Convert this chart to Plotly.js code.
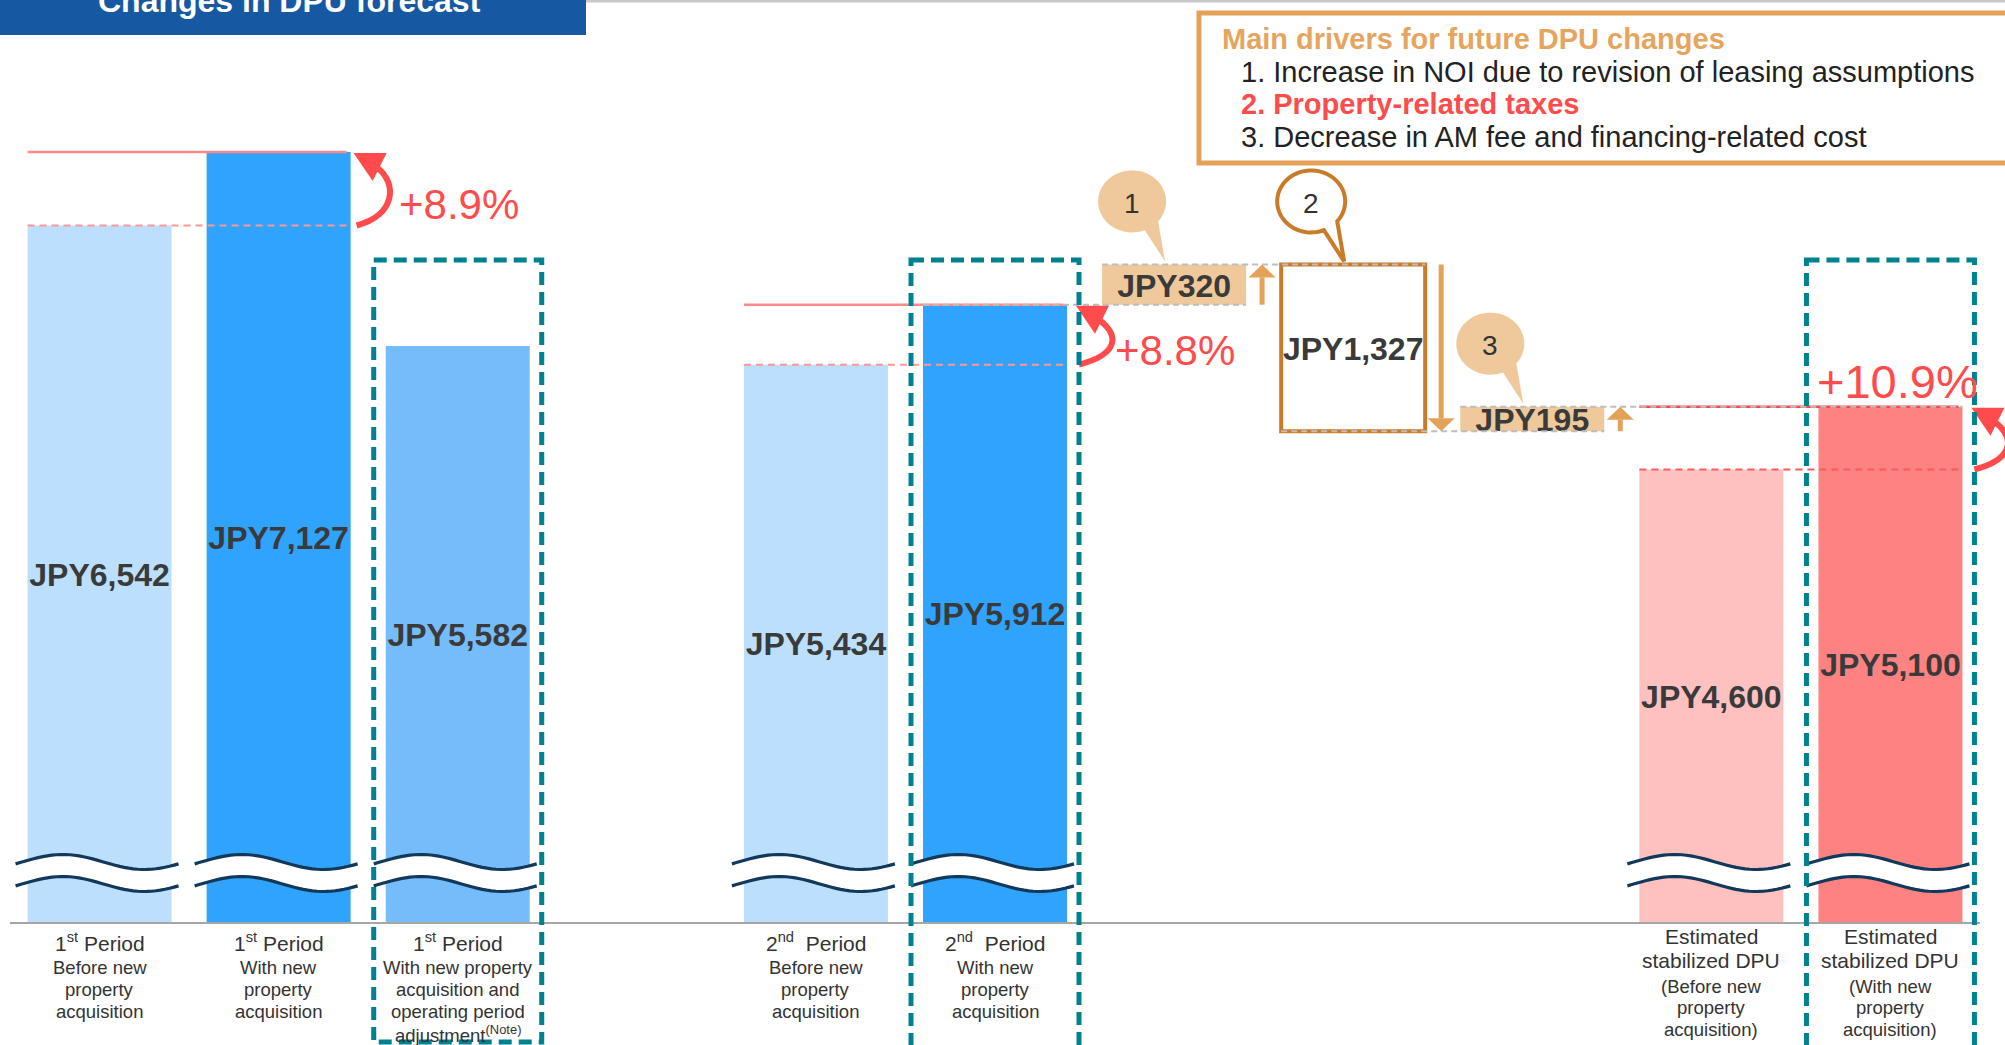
<!DOCTYPE html>
<html>
<head>
<meta charset="utf-8">
<title>Changes in DPU forecast</title>
<script src="https://cdn.plot.ly/plotly-3.0.1.min.js"></script>
<style>
  html, body { margin: 0; padding: 0; background: #ffffff; }
  #chart { width: 2005px; height: 1045px; }
</style>
</head>
<body>
<div id="chart"></div>
<script>
// ---------------- data ----------------
const chartTitle = 'Changes in DPU forecast';

const categories = [
  '1st Period before acquisition',
  '1st Period with acquisition',
  '1st Period adjusted',
  '2nd Period before acquisition',
  '2nd Period with acquisition',
  'Stabilized before acquisition',
  'Stabilized with acquisition'
];
const dpuValues = [6542, 7127, 5582, 5434, 5912, 4600, 5100];

const categoryLabels = [
  ['1<sup>st</sup> Period', 'Before new', 'property', 'acquisition'],
  ['1<sup>st</sup> Period', 'With new', 'property', 'acquisition'],
  ['1<sup>st</sup> Period', 'With new property', 'acquisition and', 'operating period', 'adjustment<sup>(Note)</sup>'],
  ['2<sup>nd</sup>\u00a0 Period', 'Before new', 'property', 'acquisition'],
  ['2<sup>nd</sup>\u00a0 Period', 'With new', 'property', 'acquisition'],
  ['Estimated', 'stabilized DPU', '(Before new', 'property', 'acquisition)'],
  ['Estimated', 'stabilized DPU', '(With new', 'property', 'acquisition)']
];

// bridge from the 2nd period DPU to the stabilized DPU
const driverCategories = ['Driver 1', 'Driver 2', 'Driver 3'];
const driverNumbers = ['1', '2', '3'];
const driverChanges = [320, -1327, 195];

// before / with pairs (indexes into categories)
const comparisons = [[0, 1], [3, 4], [5, 6]];

const legendTitle = 'Main drivers for future DPU changes';
const legendItems = [
  '1. Increase in NOI due to revision of leasing assumptions',
  '2. Property-related taxes',
  '3. Decrease in AM fee and financing-related cost'
];

// ---------------- layout helpers ----------------
const FONT = 'Liberation Sans, Arial, Helvetica, sans-serif';
const W = 2005, H = 1045;
const M = { l: 10, r: 25, t: 0, b: 123 };
const plotW = W - M.l - M.r, plotH = H - M.t - M.b;
const X_RANGE = [-0.5, 10.5];
const Y_RANGE = [998, 8337];          // value axis is broken below Y_RANGE[0]
const BAR_W = 0.804;
const TEXT_NUDGE = 4 * (Y_RANGE[1] - Y_RANGE[0]) / plotH;   // 4px downward, in value units

const columnOrder = [
  categories[0], categories[1], categories[2], null,
  categories[3], categories[4],
  driverCategories[0], driverCategories[1], driverCategories[2],
  categories[5], categories[6]
];
const highlightColumns = [categories[2], categories[4], categories[6]];
const headingLines = [1, 1, 1, 1, 1, 2, 2];
const barColors = ['#bbdffc', '#2fa3fd', '#75bdfa', '#bbdffc', '#2fa3fd', '#ffc0c0', '#ff8282'];

const slotOf = name => columnOrder.indexOf(name);
const xPx = x => M.l + (x - X_RANGE[0]) / (X_RANGE[1] - X_RANGE[0]) * plotW;
const yPx = v => M.t + (Y_RANGE[1] - v) / (Y_RANGE[1] - Y_RANGE[0]) * plotH;
const pX = px => (px - M.l) / plotW;
const pY = py => 1 - (py - M.t) / plotH;
const colCenter = name => xPx(slotOf(name));
const colLeft = name => xPx(slotOf(name) - BAR_W / 2);
const colRight = name => xPx(slotOf(name) + BAR_W / 2);
const pt = (x, y) => pX(x).toFixed(5) + ',' + pY(y).toFixed(5);
const polyPath = (pts, close) =>
  pts.map((p, i) => (i ? 'L' : 'M') + pt(p[0], p[1])).join(' ') + (close ? ' Z' : '');
const fmtJPY = v => 'JPY' + Math.abs(v).toLocaleString('en-US');

const shapes = [];
const annotations = [];
const line = (x0, y0, x1, y1, color, width, dash) => shapes.push({
  type: 'line', xref: 'paper', yref: 'paper',
  x0: pX(x0), y0: pY(y0), x1: pX(x1), y1: pY(y1),
  line: { color: color, width: width, dash: dash || 'solid' }
});
const path = (d, fill, stroke, width) => shapes.push({
  type: 'path', xref: 'paper', yref: 'paper', path: d,
  fillcolor: fill || 'rgba(0,0,0,0)',
  line: { color: stroke || 'rgba(0,0,0,0)', width: width || 0 }
});
const label = (x, y, text, size, color, anchor) => annotations.push({
  xref: 'paper', yref: 'paper', x: pX(x), y: pY(y), text: text,
  showarrow: false, xanchor: anchor || 'center', yanchor: 'middle',
  font: { family: FONT, size: size, color: color }
});

// ---------------- waterfall levels ----------------
const bridgeLevels = [dpuValues[4]];
driverChanges.forEach(c => bridgeLevels.push(bridgeLevels[bridgeLevels.length - 1] + c));
const driverBases = driverChanges.map((c, i) => bridgeLevels[i]);

// ---------------- header ----------------
shapes.push({ type: 'rect', xref: 'paper', yref: 'paper', x0: pX(0), x1: pX(586), y0: pY(0), y1: pY(35),
  fillcolor: '#1659a2', line: { width: 0 } });
line(586, 1, W, 1, '#c8c8c8', 3);
label(289, 1, '<b>' + chartTitle + '</b>', 32, '#ffffff');

// ---------------- comparison reference lines ----------------
comparisons.forEach(([b, w], k) => {
  const x0 = colLeft(categories[b]), x1 = colRight(categories[w]) - 4;
  const strong = k === 2;
  line(x0, yPx(dpuValues[b]), x1, yPx(dpuValues[b]), strong ? '#ff5a5a' : '#ff9696', 2, '7px,5px');
  line(x0, yPx(dpuValues[w]), x1, yPx(dpuValues[w]), strong ? '#ff4646' : '#ff8a8a', 2.5);
});

// ---------------- waterfall connectors and arrows ----------------
const bridgeSeq = [categories[4]].concat(driverCategories, [categories[6]]);
bridgeLevels.forEach((lv, k) => {
  line(colLeft(bridgeSeq[k]), yPx(lv), colRight(bridgeSeq[k + 1]), yPx(lv), '#bdbdbd', 2, '6px,4px');
});
driverCategories.forEach((name, i) => {
  const x = colRight(name) + 16;
  const yFrom = yPx(bridgeLevels[i]), yTo = yPx(bridgeLevels[i + 1]);
  const dir = Math.sign(yTo - yFrom);
  const headLen = 13, headHalf = 13.5;
  const yBase = yTo - dir * headLen;
  line(x, yFrom, x, yBase, '#e4a258', 5);
  path(polyPath([[x - headHalf, yBase], [x + headHalf, yBase], [x, yTo]], true), '#e4a258');
});

// ---------------- axis-break waves ----------------
categories.forEach(name => {
  const xl = colLeft(name) - 12, xr = colRight(name) + 7;
  const base = yPx(Y_RANGE[0]);
  const curve = c => {
    const pts = [];
    for (let i = 0; i <= 36; i++) {
      const t = i / 36;
      pts.push([xl + t * (xr - xl), c - 7.5 * Math.sin(2 * Math.PI * t - 0.25)]);
    }
    return pts;
  };
  const up = curve(base - 60), lo = curve(base - 38);
  path(polyPath(up.concat(lo.slice().reverse()), true), '#ffffff');
  path(polyPath(up), null, '#12395c', 3.2);
  path(polyPath(lo), null, '#12395c', 3.2);
});

// ---------------- change arrows and percentages ----------------
comparisons.forEach(([b, w], k) => {
  const R = colRight(categories[w]) + (k === 0 ? 0 : 6);
  const yH = yPx(dpuValues[w]), yL = yPx(dpuValues[b]);
  const d = 'M' + pt(R + 6, yL) + ' C' + pt(R + 44, yL - 10) + ' ' + pt(R + 48, yH + 32) + ' ' + pt(R + 26, yH + 15);
  path(d, null, '#ff4b4b', 6);
  path(polyPath([[R + 3, yH + 1], [R + 36, yH + 1], [R + 22, yH + 29]], true), '#ff4b4b');

  const pct = '+' + ((dpuValues[w] / dpuValues[b] - 1) * 100).toFixed(1) + '%';
  const Rb = colRight(categories[w]);
  if (k < 2) {
    label(Rb + 46, (yH + yL) / 2 + 16, pct, 42, '#ff4b4b', 'left');
  } else {
    label(colCenter(categories[w]) + 7, yH - 25, pct, 47, '#ff4b4b');
  }
});

// ---------------- highlight frames ----------------
highlightColumns.forEach((name, i) => {
  const c = colCenter(name);
  shapes.push({ type: 'rect', xref: 'paper', yref: 'paper',
    x0: pX(c - 84), x1: pX(c + 84), y0: pY(260), y1: pY(i === 0 ? 1042 : 1065),
    fillcolor: 'rgba(0,0,0,0)', line: { color: '#00818f', width: 5, dash: '13px,7px' } });
});

// ---------------- callout bubbles ----------------
driverCategories.forEach((name, i) => {
  const top = yPx(Math.max(bridgeLevels[i], bridgeLevels[i + 1]));
  const cx = colCenter(name) - 42, cy = top - 63, rx = 34, ry = 31;
  const E = deg => [cx + rx * Math.cos(deg * Math.PI / 180), cy + ry * Math.sin(deg * Math.PI / 180)];
  const pts = [E(40), [cx + 33, top - 3], E(68)];
  for (let d = 74; d <= 394; d += 6) pts.push(E(d));
  const outlined = i === 1;
  path(polyPath(pts, true), outlined ? '#ffffff' : '#efc99b', outlined ? '#c97b29' : null, outlined ? 4 : 0);
  label(cx, cy + 2, driverNumbers[i], 28, '#333333');
});

// ---------------- legend box ----------------
shapes.push({ type: 'rect', xref: 'paper', yref: 'paper', x0: pX(1199), x1: pX(2040), y0: pY(13), y1: pY(163),
  fillcolor: '#ffffff', line: { color: '#e4a258', width: 5 } });
label(1220, 38.5, '<b>' + legendTitle + '</b>', 29, '#e6a55e', 'left');
const legendY = [72, 103.5, 136.5];
legendItems.forEach((t, i) => {
  const emph = i === 1;
  label(1239, legendY[i], emph ? '<b>' + t + '</b>' : t, 29, emph ? '#ff4b4b' : '#222222', 'left');
});

// ---------------- category labels ----------------
const lineY = {
  1: [942, 967, 989.5, 1011.5, 1034],
  2: [936, 960.5, 986, 1008, 1029.5]
};
categories.forEach((name, i) => {
  const heads = headingLines[i];
  categoryLabels[i].forEach((t, j) => {
    label(colCenter(name), lineY[heads][j], t, j < heads ? 21 : 18.5, '#333333');
  });
});

// ---------------- traces ----------------
const mainBars = {
  type: 'bar',
  x: categories.map(slotOf),
  y: dpuValues,
  width: BAR_W,
  marker: { color: barColors, line: { width: 0 } },
  hoverinfo: 'skip'
};
const driverBars = {
  type: 'bar',
  x: driverCategories.map(slotOf),
  y: driverChanges,
  base: driverBases,
  width: BAR_W,
  marker: {
    color: driverChanges.map((c, i) => i === 1 ? 'rgba(255,255,255,0)' : '#efc99b'),
    line: { width: driverChanges.map((c, i) => i === 1 ? 4 : 0), color: '#c97b29' }
  },
  hoverinfo: 'skip'
};
const mainText = {
  type: 'scatter', mode: 'text',
  x: categories.map(slotOf),
  y: dpuValues.map(v => (v + Y_RANGE[0]) / 2 - TEXT_NUDGE),
  text: dpuValues.map(v => '<b>' + fmtJPY(v) + '</b>'),
  textposition: 'middle center',
  textfont: { family: FONT, size: 32, color: '#3a3a3a' },
  cliponaxis: false, hoverinfo: 'skip'
};
const driverText = {
  type: 'scatter', mode: 'text',
  x: driverCategories.map(slotOf),
  y: driverChanges.map((c, i) => driverBases[i] + c / 2 - TEXT_NUDGE),
  text: driverChanges.map(c => '<b>' + fmtJPY(c) + '</b>'),
  textposition: 'middle center',
  textfont: { family: FONT, size: 32, color: '#3a3a3a' },
  cliponaxis: false, hoverinfo: 'skip'
};

const layout = {
  width: W, height: H,
  margin: { l: M.l, r: M.r, t: M.t, b: M.b, pad: 0 },
  paper_bgcolor: '#ffffff', plot_bgcolor: '#ffffff',
  showlegend: false,
  barmode: 'overlay',
  font: { family: FONT },
  xaxis: { range: X_RANGE, showgrid: false, zeroline: false, showticklabels: false, ticks: '',
           showline: true, linecolor: '#a6a6a6', linewidth: 2, fixedrange: true },
  yaxis: { range: Y_RANGE, visible: false, showgrid: false, zeroline: false, fixedrange: true },
  shapes: shapes,
  annotations: annotations
};

Plotly.newPlot('chart', [mainBars, driverBars, mainText, driverText], layout, { displayModeBar: false, staticPlot: true });
</script>
</body>
</html>
